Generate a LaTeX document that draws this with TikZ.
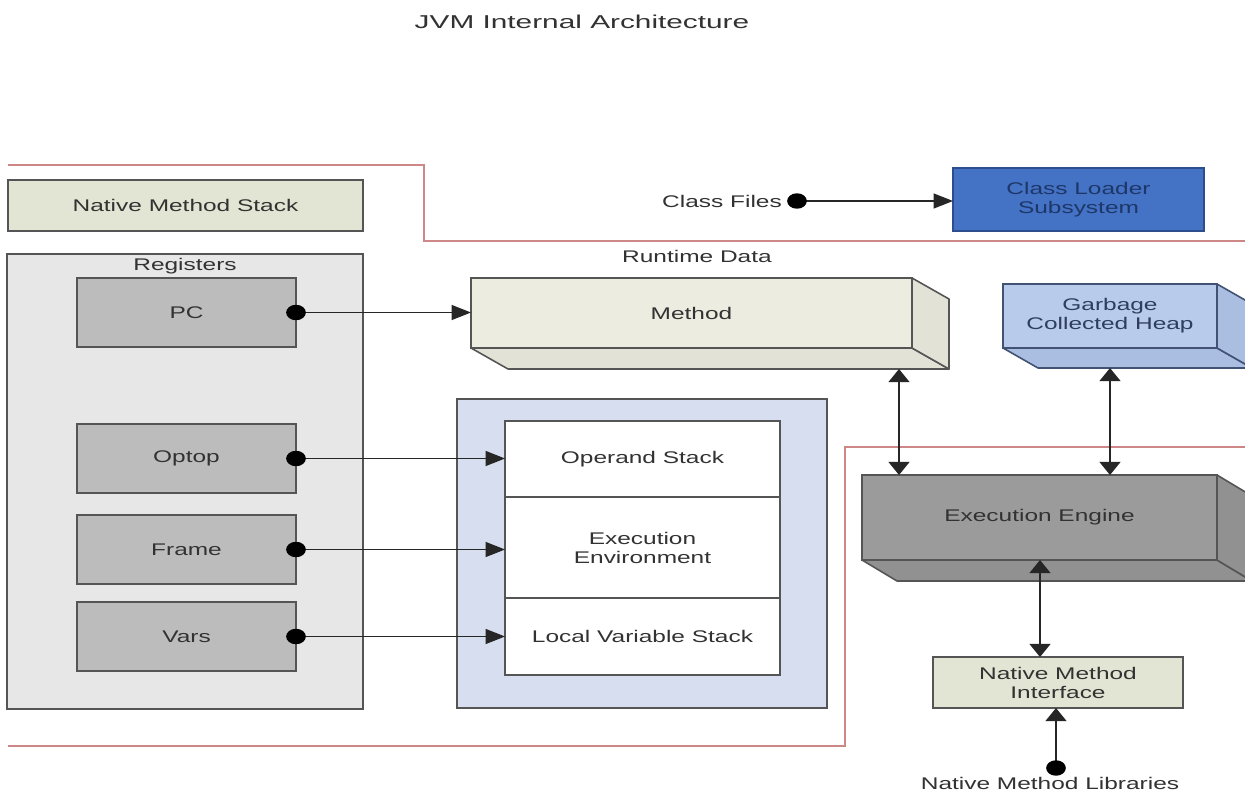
\documentclass[tikz,border=0pt]{standalone}
\usepackage{fontspec}
\setmainfont{Liberation Sans}[FakeStretch=1.45]
\newfontfamily\titlefont{Liberation Sans}[FakeStretch=1.6]
\usetikzlibrary{arrows.meta}
\definecolor{redline}{RGB}{205,135,135}
\definecolor{txt}{RGB}{50,50,50}
\definecolor{bord}{RGB}{85,85,85}
\definecolor{beige}{RGB}{226,229,211}
\definecolor{regfill}{RGB}{231,231,231}
\definecolor{regbox}{RGB}{188,188,188}
\definecolor{methfill}{RGB}{236,236,224}
\definecolor{methside}{RGB}{226,227,214}
\definecolor{gcfill}{RGB}{185,203,234}
\definecolor{gcside}{RGB}{170,190,226}
\definecolor{gcbord}{RGB}{65,82,115}
\definecolor{gctxt}{RGB}{45,62,96}
\definecolor{clfill}{RGB}{68,114,196}
\definecolor{clbord}{RGB}{45,78,140}
\definecolor{cltxt}{RGB}{30,55,105}
\definecolor{sffill}{RGB}{214,222,239}
\definecolor{exfill}{RGB}{155,155,155}
\definecolor{exside}{RGB}{145,145,145}
\newcommand\bx[7]{\node[#2, minimum width={(#5-#3)*0.02cm}, minimum height={(#6-#4)*0.02cm}] (#1) at ({(#3+#5)/2},{(#4+#6)/2}) {#7};}
\newcommand\ext[5]{%
  \filldraw[fill=#2, draw=#3, line width=0.9pt, line join=round]
    (#1.south west) -- (#1.south east) -- ([xshift=#4*0.02cm, yshift=-#5*0.02cm]#1.south east)
    -- ([xshift=#4*0.02cm, yshift=-#5*0.02cm]#1.south west) -- cycle;
  \filldraw[fill=#2, draw=#3, line width=0.9pt, line join=round]
    (#1.north east) -- ([xshift=#4*0.02cm, yshift=-#5*0.02cm]#1.north east)
    -- ([xshift=#4*0.02cm, yshift=-#5*0.02cm]#1.south east) -- (#1.south east) -- cycle;}
\begin{document}
\begin{tikzpicture}[x=0.02cm,y=-0.02cm,
  every node/.style={font=\fontsize{9.6}{10.8}\selectfont, text=txt, inner sep=0pt, outer sep=0pt, align=center},
  box/.style={draw=bord, line width=0.9pt},
  conn/.style={draw=black!85, line width=0.8pt},
  harr/.style={conn, -{Triangle[length=11pt,width=8.5pt]}},
  varr/.style={conn, {Triangle[length=7.5pt,width=12pt]}-{Triangle[length=7.5pt,width=12pt]}},
  uarr/.style={conn, -{Triangle[length=7.5pt,width=12pt]}},
  lbl/.style={}]
\useasboundingbox (0,0) rectangle (1245,791);
\clip (0,0) rectangle (1245,791);
\fill[white] (0,0) rectangle (1245,791);

% title
\node[font=\titlefont\fontsize{10.6}{12}\selectfont] (title) at (582,22) {JVM Internal Architecture};

% red boundary lines
\draw[redline, line width=0.7pt] (8,165) -- (424,165) -- (424,241) -- (1245,241);
\draw[redline, line width=0.7pt] (8,746) -- (845,746) -- (845,447) -- (1245,447);

% native method stack
\bx{nms}{box, fill=beige}{8}{180}{363}{231}{Native Method Stack}

% class loader
\node[lbl] (cf) at (722,201) {Class Files};
\coordinate (cfdot) at (797,201);
\bx{cl}{draw=clbord, line width=0.9pt, fill=clfill, text=cltxt}{953}{168}{1204}{231}{Class Loader\\Subsystem}
\draw[harr] (cfdot) -- (cfdot -| cl.west);
\fill[black] (cfdot) ellipse[x radius=5.6pt, y radius=4.4pt];

\node[lbl] (rtd) at (697,256) {Runtime Data};

% registers
\bx{reg}{draw=bord, line width=0.8pt, fill=regfill}{7}{254}{363}{709}{}
\node[lbl] (reglbl) at (185,266) {Registers};
\bx{pc}{box, fill=regbox}{77}{278}{296}{347}{PC}
\bx{optop}{box, fill=regbox}{77}{424}{296}{493}{Optop}
\bx{frame}{box, fill=regbox}{77}{515}{296}{584}{Frame}
\bx{vars}{box, fill=regbox}{77}{602}{296}{671}{Vars}

% method area
\bx{method}{box, fill=methfill}{471}{278}{912}{348}{Method}
\ext{method}{methside}{bord}{37}{21}

% garbage collected heap
\bx{gc}{draw=gcbord, line width=0.9pt, fill=gcfill, text=gctxt}{1003}{284}{1217}{348}{Garbage\\Collected Heap}
\ext{gc}{gcside}{gcbord}{35}{20}

% stack frame
\bx{sf}{box, fill=sffill}{457}{399}{827}{708}{}
\bx{ops}{box, fill=white}{505}{421}{780}{497}{Operand Stack}
\bx{env}{box, fill=white}{505}{497}{780}{598}{Execution\\Environment}
\bx{lvs}{box, fill=white}{505}{598}{780}{675}{Local Variable Stack}

% execution engine
\bx{exec}{box, fill=exfill}{862}{475}{1217}{560}{Execution Engine}
\ext{exec}{exside}{bord}{35}{21}

% native method interface
\bx{nmi}{box, fill=beige}{933}{657}{1183}{708}{Native Method\\Interface}
\node[lbl] (nml) at (1050,783) {Native Method Libraries};
\coordinate (nmldot) at (1056,768);

% register connectors
\foreach \r/\t in {pc/method, optop/ops, frame/env, vars/lvs}{
  \draw[harr] (\r.east) -- (\r.east -| \t.west);
  \fill[black] (\r.east) ellipse[x radius=5.6pt, y radius=4.4pt];
}

% vertical double arrows
\draw[varr] ([xshift=-13*0.02cm, yshift=-21*0.02cm]method.south east) -- ([xshift=-13*0.02cm]method.south east |- exec.north);
\draw[varr] ([yshift=-20*0.02cm]gc.south) -- (gc.south |- exec.north);
\draw[varr] ([xshift=-18*0.02cm]nmi.north |- exec.south) -- ([xshift=-18*0.02cm]nmi.north);
\draw[uarr] (nmldot) -- (nmldot |- nmi.south);
\fill[black] (nmldot) ellipse[x radius=5.6pt, y radius=4.4pt];
\end{tikzpicture}
\end{document}
